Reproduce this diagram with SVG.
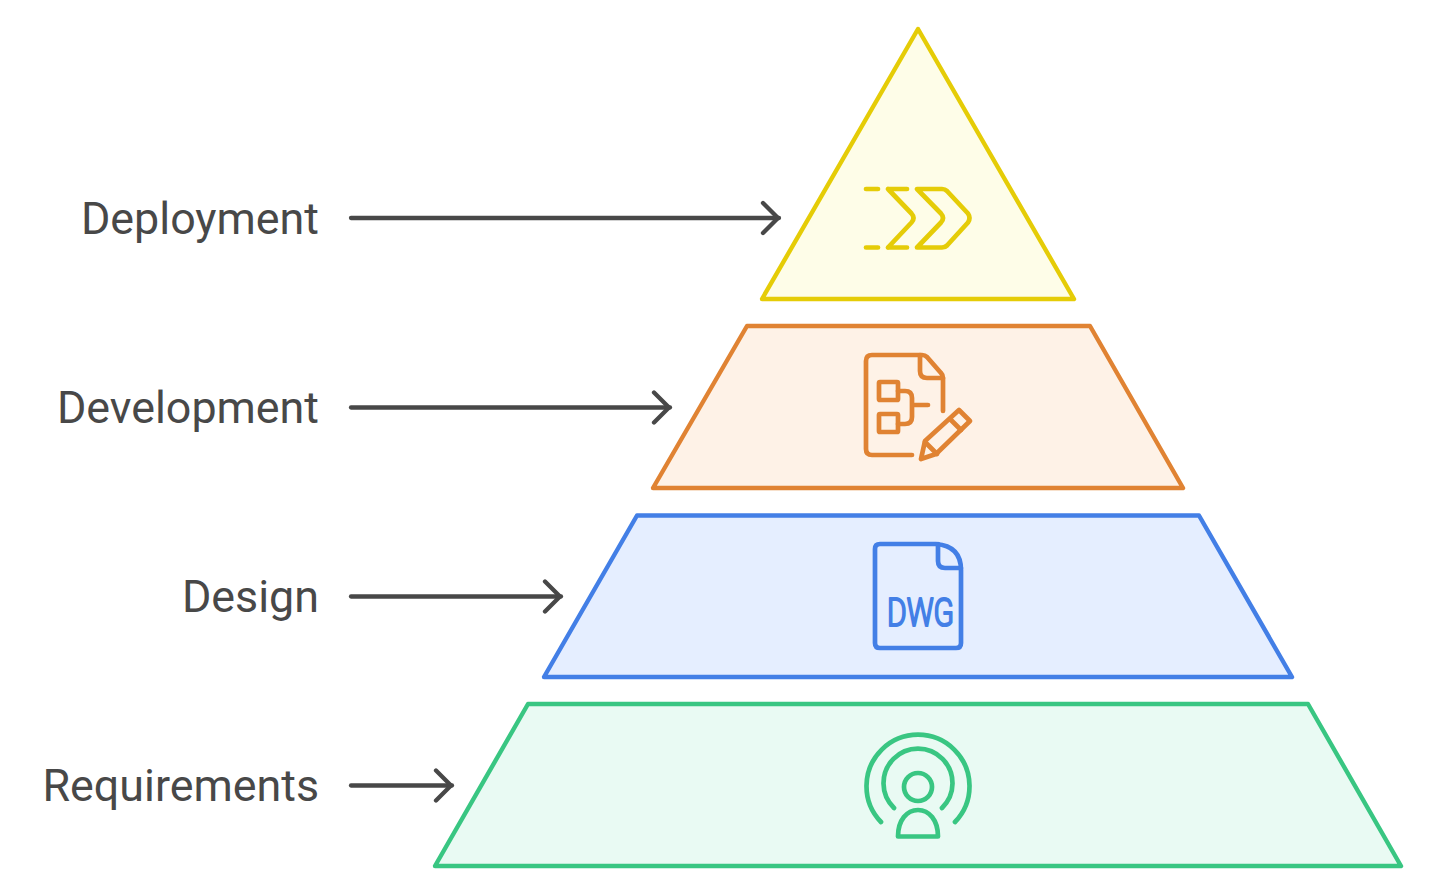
<svg xmlns="http://www.w3.org/2000/svg" width="1431" height="896" viewBox="0 0 1431 896">
<defs>
<style>
.lbl{font-family:Roboto,"Liberation Sans",sans-serif;font-size:44.8px;fill:#484848;text-anchor:end}
.conn{fill:none;stroke:#484848;stroke-width:4.3;stroke-linecap:round;stroke-linejoin:round}
.shape{stroke-width:4.4;stroke-linejoin:round}
.ic{fill:none;stroke-width:4.7;stroke-linecap:round;stroke-linejoin:round}
</style>
<marker id="arrow" markerUnits="userSpaceOnUse" markerWidth="24" markerHeight="36" refX="21" refY="18" orient="auto" viewBox="0 0 24 36"><path d="M5 3 L20 18 L5 33" class="conn"/></marker>
</defs>
<rect width="1431" height="896" fill="#ffffff"/>
<g id="connectors">
<path class="conn" d="M351 218H779" marker-end="url(#arrow)"/>
<path class="conn" d="M351 407.500H670" marker-end="url(#arrow)"/>
<path class="conn" d="M351 596.500H561" marker-end="url(#arrow)"/>
<path class="conn" d="M351 785.500H452" marker-end="url(#arrow)"/>
</g>
<g id="node-deployment">
<path class="shape" d="M918 29L1074 299H762Z" fill="#fefde8" stroke="#e5cc07"/>
<g class="ic" stroke="#e5cc07">
<path d="M866 189H878M866 247.500H878"/>
<path d="M888 189H907M888 247.500H907M888 189L911.500 213.500Q915.500 218 911.500 222.500L888 247.500"/>
<path d="M917 189H942Q945 189 947 191L968 213.500Q971 218 968 222.500L947 245.500Q945 247.500 942 247.500H917L941 222.500Q945 218 941 213.500Z"/>
</g>
<text class="lbl" x="319" y="234">Deployment</text>
</g>
<g id="node-development">
<path class="shape" d="M747 326H1090L1183 488H653Z" fill="#fef2e7" stroke="#e08333"/>
<g class="ic" stroke="#e08333">
<path d="M912 455H872Q866 455 866 449V361Q866 355 872 355H922Q925 355 927 357L941 373Q943 375 943 378V411"/>
<path d="M920 355V371Q920 378 927 378H943"/>
<rect x="879" y="382" width="19" height="18" rx="1"/>
<rect x="879" y="414" width="19" height="18" rx="1"/>
<path d="M898 391H905Q912 391 912 398V417Q912 424 905 424H898M912 405H928"/>
<path d="M921 459L925 441L959 410L970 421L936 454Z"/>
<path d="M925 442L937 454M950 419L961 430"/>
</g>
<text class="lbl" x="319" y="423">Development</text>
</g>
<g id="node-design">
<path class="shape" d="M637 515.500H1199L1292 677H544Z" fill="#e5eeff" stroke="#437fe6"/>
<g class="ic" stroke="#437fe6">
<path d="M880 544H936Q961 546 961 570V643Q961 648 956 648H880Q875 648 875 643V549Q875 544 880 544Z"/>
<path d="M938 544V561Q938 568 945 568H961"/>
</g>
<text x="887" y="626" textLength="67" lengthAdjust="spacingAndGlyphs" font-family="Roboto,'Liberation Sans',sans-serif" font-size="38" font-weight="300" fill="#437fe6" stroke="#437fe6" stroke-width="2.2" stroke-linejoin="round">DWG</text>
<text class="lbl" x="319" y="612">Design</text>
</g>
<g id="node-requirements">
<path class="shape" d="M528 704H1308L1401 866H435Z" fill="#e9faf3" stroke="#39c682"/>
<g class="ic" stroke="#39c682">
<path d="M881 822A51.500 51.500 0 1 1 955 822"/>
<path d="M894 808A34.500 34.500 0 1 1 942 808"/>
<circle cx="918" cy="787" r="14"/>
<path d="M898 836.500C898 820 907 810 918 810C929 810 938 820 938 836.500Z"/>
</g>
<text class="lbl" x="319" y="801">Requirements</text>
</g>
</svg>
